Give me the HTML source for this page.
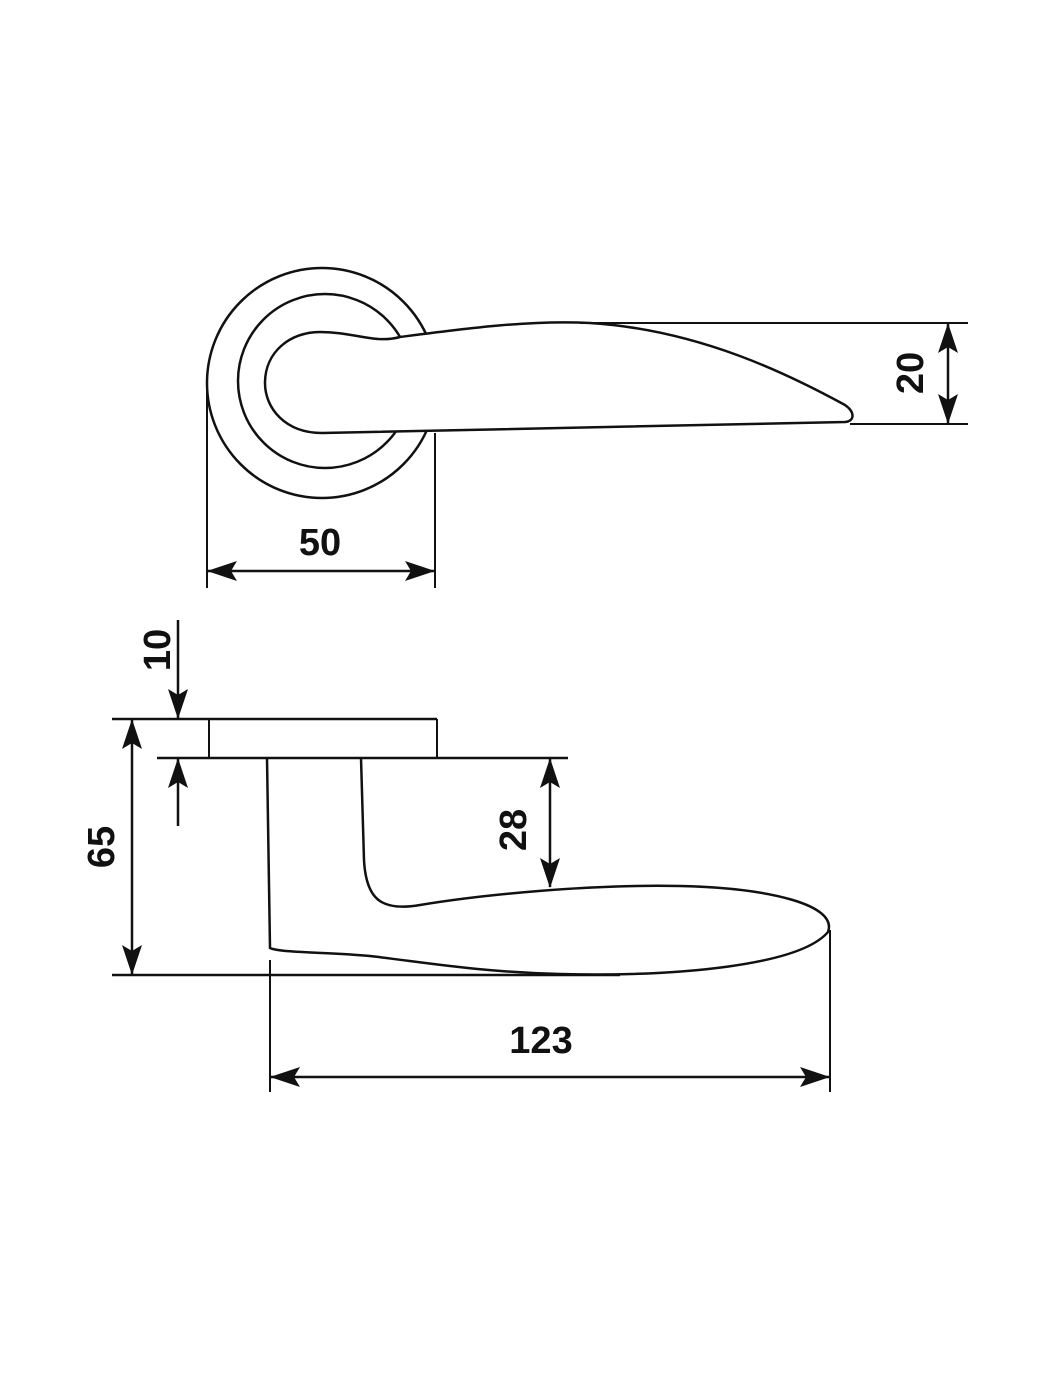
<!DOCTYPE html>
<html><head><style>
html,body{margin:0;padding:0;background:#fff;}
svg{display:block}
text{font-family:"Liberation Sans",sans-serif;font-size:38px;font-weight:bold;fill:#111;}
</style></head><body>
<svg width="1050" height="1400" viewBox="0 0 1050 1400" xmlns="http://www.w3.org/2000/svg">
<defs>
<marker id="a" viewBox="0 0 30 20" refX="29" refY="10" markerWidth="30" markerHeight="20" markerUnits="userSpaceOnUse" orient="auto-start-reverse">
<path d="M0,0 L30,10 L0,20 L6,10 Z" fill="#111"/>
</marker>
</defs>
<g fill="none" stroke="#111" stroke-width="2.5">
<!-- top view -->
<circle cx="322" cy="383" r="115"/>
<circle cx="325" cy="381" r="87"/>
<path fill="#fff" d="M 322,433 C 285,433 265,408 265,383 C 265,352 290,332 320,332 C 355,332 375,344 400,337 C 470,328 530,320 590,323 C 700,330 790,375 845,405 C 855,412 855,421 845,422 L 322,433 Z"/>
<line x1="580" y1="323" x2="968" y2="323" stroke-width="2"/>
<line x1="850" y1="424" x2="968" y2="424" stroke-width="2"/>
<line x1="948" y1="324" x2="948" y2="423" stroke-width="2.5" marker-start="url(#a)" marker-end="url(#a)"/>
<line x1="207" y1="383" x2="207" y2="588" stroke-width="2"/>
<line x1="435" y1="433" x2="435" y2="588" stroke-width="2"/>
<line x1="208" y1="571" x2="434" y2="571" marker-start="url(#a)" marker-end="url(#a)"/>
<!-- side view -->
<line x1="112" y1="719" x2="437" y2="719" stroke-width="2.5"/>
<line x1="157" y1="758" x2="568" y2="758" stroke-width="2.5"/>
<line x1="209" y1="719" x2="209" y2="758" stroke-width="2"/>
<line x1="437" y1="719" x2="437" y2="758" stroke-width="2"/>
<line x1="178" y1="620" x2="178" y2="718" marker-end="url(#a)"/>
<line x1="178" y1="826" x2="178" y2="759" marker-end="url(#a)"/>
<line x1="132" y1="720" x2="132" y2="974" marker-start="url(#a)" marker-end="url(#a)"/>
<line x1="112" y1="975" x2="620" y2="975" stroke-width="2.5"/>
<path d="M 267,758 L 270,948 C 280,953 330,952 370,956 C 430,963 480,972 560,974 C 680,977 800,965 828,932 C 838,905 770,888 680,886 C 590,884 480,895 420,905 C 380,912 366,898 364,860 L 361,758"/>
<line x1="550" y1="759" x2="550" y2="887" marker-start="url(#a)" marker-end="url(#a)"/>
<line x1="270" y1="960" x2="270" y2="1092" stroke-width="2"/>
<line x1="830" y1="930" x2="830" y2="1092" stroke-width="2"/>
<line x1="271" y1="1077" x2="829" y2="1077" marker-start="url(#a)" marker-end="url(#a)"/>
</g>
<text x="320" y="555" text-anchor="middle">50</text>
<text transform="translate(923,373) rotate(-90)" text-anchor="middle">20</text>
<text transform="translate(170,650) rotate(-90)" text-anchor="middle">10</text>
<text transform="translate(114,847) rotate(-90)" text-anchor="middle">65</text>
<text transform="translate(526,830) rotate(-90)" text-anchor="middle">28</text>
<text x="541" y="1053" text-anchor="middle">123</text>
</svg>
</body></html>
